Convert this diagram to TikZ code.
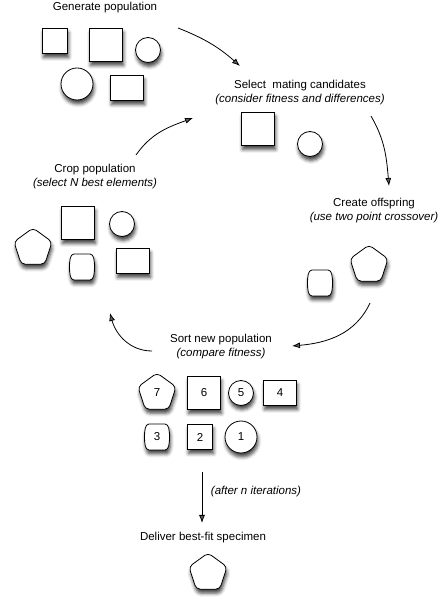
\documentclass[tikz,border=0pt]{standalone}
\usepackage{fontspec}
\setmainfont{Liberation Sans}
\usetikzlibrary{shapes.geometric,shadows.blur,arrows.meta}
\begin{document}
\begin{tikzpicture}[x=1pt,y=1pt,
  every node/.style={font=\fontsize{11.5}{14}\selectfont},
  lbl/.style={align=center, inner sep=0pt},
  shd/.style={blur shadow={shadow xshift=1pt, shadow yshift=-4pt, shadow blur radius=3.5pt, shadow opacity=75}},
  shp/.style={draw=black, line width=0.8pt, fill=white, inner sep=0pt, shd},
  sqs/.style={shp, rectangle, minimum size=25pt},
  sqb/.style={shp, rectangle, minimum size=33pt},
  rct/.style={shp, rectangle, minimum width=33pt, minimum height=25pt},
  cs/.style={shp, circle, minimum size=25pt},
  cb/.style={shp, circle, minimum size=32pt},
  pent/.style={shp, regular polygon, regular polygon sides=5, minimum size=40pt, rounded corners=4pt},
  brl/.style={draw=black, line width=0.8pt, fill=white, shd},
  arr/.style={line width=0.8pt, -{Latex[length=8pt,width=6pt]}}]
\useasboundingbox (0,0) rectangle (443,608);
\newcommand\barrelshape[1]{%
  \draw[brl, shift={(#1)}] (-8,13) -- (8,13) .. controls (12,13) and (12.5,6) .. (12.5,0)
    .. controls (12.5,-6) and (12,-13) .. (8,-13) -- (-8,-13)
    .. controls (-12,-13) and (-12.5,-6) .. (-12.5,0)
    .. controls (-12.5,6) and (-12,13) .. (-8,13) -- cycle;}

% texts
\node[lbl] (gen) at (105,600) {Generate population};
\node[lbl] (sel) at (300,515) {Select \ mating candidates\\\textit{(consider fitness and differences)}};
\node[lbl] (crop) at (95,431.5) {Crop population\\\textit{(select N best elements)}};
\node[lbl] (off) at (374,397) {Create offspring\\\textit{(use two point crossover)}};
\node[lbl] (sort) at (221,261) {Sort new population\\\textit{(compare fitness)}};
\node[lbl] (after) at (256,116) {\textit{(after n iterations)}};
\node[lbl] (deliv) at (203,70) {Deliver best-fit specimen};

% generate population
\node[sqs] (g1) at (55,567) {};
\node[sqb] (g2) at (106,563) {};
\node[cs] (g3) at (148,558) {};
\node[cb] (g4) at (77,524) {};
\node[rct] (g5) at (127,520) {};

% select
\node[sqb] (s1) at (258,479) {};
\node[cs] (s2) at (310,464) {};

% crop
\node[sqb] (c1) at (78,385) {};
\node[cs] (c2) at (122,384) {};
\node[pent] (c3) at (33,360) {};
\coordinate (c4) at (82,341);
\barrelshape{c4}
\node[rct] (c5) at (133,347) {};

% offspring
\coordinate (o1) at (320,325);
\barrelshape{o1}
\node[pent] (o2) at (369,343) {};

% sort
\node[pent] (p7) at (157,215) {7};
\node[sqb] (p6) at (204,215) {6};
\node[cs] (p5) at (241,215) {5};
\node[rct] (p4) at (280,215) {4};
\coordinate (p3c) at (157,171);
\barrelshape{p3c}
\node (p3) at (p3c) {3};
\node[sqs] (p2) at (200,171) {2};
\node[cb] (p1) at (241,171) {1};

% deliver
\node[pent] (d1) at (208,35) {};

% arrow end points
\coordinate (a1s) at (178,580); \coordinate (a1e) at (240,542);
\coordinate (a2s) at (136,453); \coordinate (a2e) at (193,490);
\coordinate (a3s) at (371,492); \coordinate (a3e) at (389,422);
\coordinate (a4s) at (370,305); \coordinate (a4e) at (292,262);
\coordinate (a5s) at (152,257); \coordinate (a5e) at (110,295);
\coordinate (a6s) at (202,136); \coordinate (a6e) at (202,85);

\draw[arr] (a1s) to[bend left=10] (a1e);
\draw[arr] (a2s) to[out=55, in=200] (a2e);
\draw[arr] (a3s) to[out=-60, in=95] (a3e);
\draw[arr] (a4s) to[out=245, in=5] (a4e);
\draw[arr] (a5s) to[out=180, in=-75] (a5e);
\draw[arr] (a6s) -- (a6e);
\end{tikzpicture}
\end{document}
